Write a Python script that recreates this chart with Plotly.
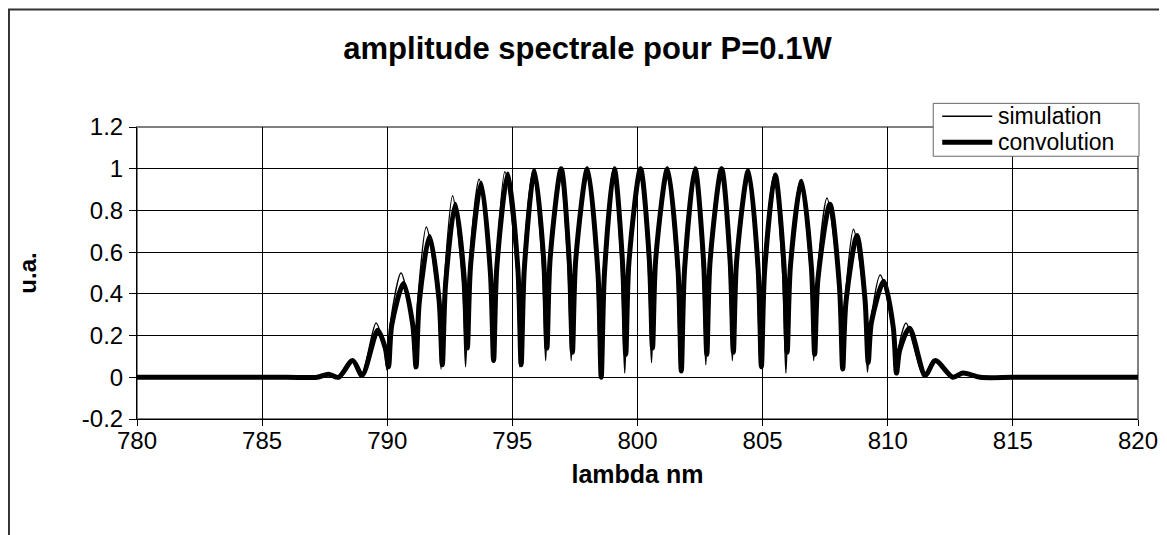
import plotly.graph_objects as go

# Wavelength (nm) / amplitude points (peaks, flanks, troughs)
sim_x = [780, 782, 784, 786, 787.1, 787.6, 788.0, 788.55, 788.95,
         789.55, 789.87, 790.0, 790.13,
         790.55, 790.97, 791.1, 791.23,
         791.56, 792.02, 792.15, 792.28,
         792.61, 793.0, 793.13, 793.26,
         793.67, 794.1, 794.23, 794.36,
         794.70, 795.17, 795.3, 795.43,
         795.83, 796.2, 796.33, 796.46,
         796.9, 797.22, 797.35, 797.48,
         797.97, 798.37, 798.5, 798.63,
         799.04, 799.36, 799.49, 799.62,
         800.1, 800.43, 800.56, 800.69,
         801.17, 801.57, 801.7, 801.83,
         802.27, 802.6, 802.73, 802.86,
         803.33, 803.66, 803.79, 803.92,
         804.40, 804.77, 804.9, 805.03,
         805.46, 805.8, 805.93, 806.06,
         806.5, 806.91, 807.04, 807.17,
         807.57, 808.04, 808.17, 808.3,
         808.63, 809.06, 809.19, 809.32,
         809.70, 810.17, 810.3, 810.43,
         810.73, 811.45, 811.83, 812.55, 812.95, 813.6, 815, 817, 819, 820]
sim_y = [0, 0, 0, 0, 0, 0.015, 0.0, 0.085, 0.0,
         0.26, 0.145, 0.03, 0.265,
         0.50, 0.27, 0.04, 0.38,
         0.72, 0.38, 0.04, 0.455,
         0.87, 0.46, 0.05, 0.50,
         0.95, 0.515, 0.08, 0.53,
         0.985, 0.52, 0.05, 0.52,
         0.995, 0.54, 0.08, 0.54,
         1.0, 0.54, 0.08, 0.54,
         1.0, 0.50, 0.01, 0.50,
         1.0, 0.51, 0.02, 0.51,
         1.0, 0.535, 0.07, 0.535,
         1.0, 0.51, 0.025, 0.51,
         1.0, 0.53, 0.06, 0.53,
         1.0, 0.54, 0.08, 0.535,
         0.99, 0.52, 0.05, 0.51,
         0.975, 0.50, 0.02, 0.48,
         0.945, 0.51, 0.08, 0.47,
         0.86, 0.45, 0.04, 0.375,
         0.71, 0.37, 0.025, 0.26,
         0.49, 0.255, 0.02, 0.14,
         0.26, 0.0, 0.085, 0.0, 0.02, 0.0, 0, 0, 0, 0]

conv_x = [780, 782, 784, 786, 787.2, 787.65, 788.05, 788.62, 789.0,
          789.62, 789.92, 790.05, 790.18,
          790.65, 791.02, 791.15, 791.28,
          791.69, 792.07, 792.2, 792.33,
          792.72, 793.07, 793.2, 793.33,
          793.75, 794.12, 794.25, 794.38,
          794.82, 795.22, 795.35, 795.48,
          795.88, 796.25, 796.38, 796.51,
          796.95, 797.27, 797.4, 797.53,
          798.0, 798.42, 798.55, 798.68,
          799.07, 799.4, 799.53, 799.66,
          800.12, 800.47, 800.6, 800.73,
          801.2, 801.62, 801.75, 801.88,
          802.3, 802.64, 802.77, 802.9,
          803.36, 803.7, 803.83, 803.96,
          804.43, 804.82, 804.95, 805.08,
          805.5, 805.85, 805.98, 806.11,
          806.55, 806.95, 807.08, 807.21,
          807.69, 808.07, 808.2, 808.33,
          808.77, 809.09, 809.22, 809.35,
          809.84, 810.22, 810.35, 810.48,
          810.87, 811.5, 811.9, 812.6, 813.0, 813.7, 815, 817, 819, 820]
conv_y = [0, 0, 0, 0, 0, 0.015, 0.0, 0.08, 0.01,
          0.225, 0.14, 0.05, 0.25,
          0.45, 0.25, 0.05, 0.36,
          0.675, 0.37, 0.06, 0.445,
          0.83, 0.485, 0.14, 0.535,
          0.93, 0.505, 0.08, 0.53,
          0.975, 0.52, 0.06, 0.525,
          0.99, 0.565, 0.14, 0.57,
          1.0, 0.56, 0.12, 0.56,
          1.0, 0.50, 0.0, 0.50,
          1.0, 0.555, 0.11, 0.555,
          1.0, 0.57, 0.14, 0.57,
          1.0, 0.515, 0.03, 0.515,
          1.0, 0.555, 0.11, 0.555,
          1.0, 0.56, 0.12, 0.555,
          0.99, 0.52, 0.05, 0.51,
          0.97, 0.545, 0.12, 0.53,
          0.94, 0.525, 0.11, 0.47,
          0.83, 0.435, 0.04, 0.36,
          0.68, 0.375, 0.07, 0.265,
          0.46, 0.24, 0.02, 0.13,
          0.235, 0.01, 0.08, 0.0, 0.02, 0.0, 0, 0, 0, 0]

x_ticks = [780, 785, 790, 795, 800, 805, 810, 815, 820]
y_ticks = [-0.2, 0, 0.2, 0.4, 0.6, 0.8, 1.0, 1.2]
y_ticktext = ["-0.2", "0", "0.2", "0.4", "0.6", "0.8", "1", "1.2"]
series_names = ["simulation", "convolution"]

FONT = "Arial, Liberation Sans, sans-serif"
THIN, THICK = 1.5, 5

fig = go.Figure()
fig.add_trace(go.Scatter(x=sim_x, y=sim_y, mode="lines", name=series_names[0],
                         line=dict(color="black", width=THIN, shape="spline", smoothing=0.8)))
fig.add_trace(go.Scatter(x=conv_x, y=conv_y, mode="lines", name=series_names[1],
                         line=dict(color="black", width=THICK, shape="spline", smoothing=0.8)))

# page body has an 8px margin, so the figure starts at (8, 8) on screen
OFF = 8
W, H = 1167 - OFF, 535 - OFF
L, R, T, B = 137 - OFF, 1137.7 - OFF, 126.7 - OFF, 419.3 - OFF
pw, ph = R - L, B - T


def px(xs):  # screen x -> paper x
    return (xs - OFF - L) / pw


def py(ys):  # screen y -> paper y
    return (B - (ys - OFF)) / ph


# outer chart border
fig.add_shape(type="rect", xref="paper", yref="paper",
              x0=px(9), x1=px(1161.5), y0=py(560), y1=py(9),
              line=dict(color="#333333", width=2), layer="below")
# plot area frame
fig.add_shape(type="rect", xref="paper", yref="paper",
              x0=0, x1=1, y0=0, y1=1,
              line=dict(color="#808080", width=2), layer="below")

# legend box (drawn by hand to match the compact spreadsheet legend)
fig.add_shape(type="rect", xref="paper", yref="paper",
              x0=px(933), x1=px(1138.7), y0=py(156), y1=py(103),
              line=dict(color="#666666", width=1), fillcolor="white", layer="above")
for name, w, yc in [(series_names[0], THIN, 116), (series_names[1], THICK, 142)]:
    fig.add_shape(type="line", xref="paper", yref="paper",
                  x0=px(942), x1=px(992), y0=py(yc), y1=py(yc),
                  line=dict(color="black", width=w), layer="above")
    fig.add_annotation(xref="paper", yref="paper", x=px(996), y=py(yc),
                       xanchor="left", yanchor="middle", showarrow=False,
                       text=name, font=dict(size=23, family=FONT, color="black"))

fig.update_layout(
    width=W, height=H,
    margin=dict(l=L, r=W - R, t=T, b=H - B, autoexpand=False),
    paper_bgcolor="white", plot_bgcolor="white",
    font=dict(family=FONT, color="black", size=24),
    title=dict(text="<b>amplitude spectrale pour P=0.1W</b>", x=0.5, xanchor="center",
               y=1 - 40 / H, yanchor="middle", font=dict(size=31, family=FONT),
               automargin=False),
    showlegend=False,
)
fig.update_xaxes(range=[780, 820], tickvals=x_ticks, ticktext=[str(v) for v in x_ticks],
                 showgrid=True, gridcolor="black", gridwidth=1,
                 showline=True, linecolor="black", linewidth=1,
                 ticks="outside", ticklen=6, tickcolor="black",
                 ticklabelstandoff=-6,
                 zeroline=False, automargin=False,
                 title=dict(text="<b>lambda nm</b>", font=dict(size=25, family=FONT), standoff=12),
                 tickfont=dict(size=24, family=FONT))
fig.update_yaxes(range=[-0.2, 1.2], tickvals=y_ticks, ticktext=y_ticktext,
                 showgrid=True, gridcolor="black", gridwidth=1,
                 showline=True, linecolor="black", linewidth=1,
                 ticks="outside", ticklen=7, tickcolor="black",
                 ticklabelstandoff=1,
                 zeroline=False, automargin=False,
                 title=dict(text="<b>u.a.</b>", font=dict(size=24, family=FONT), standoff=38),
                 tickfont=dict(size=24, family=FONT))

fig.write_html("out.html")
